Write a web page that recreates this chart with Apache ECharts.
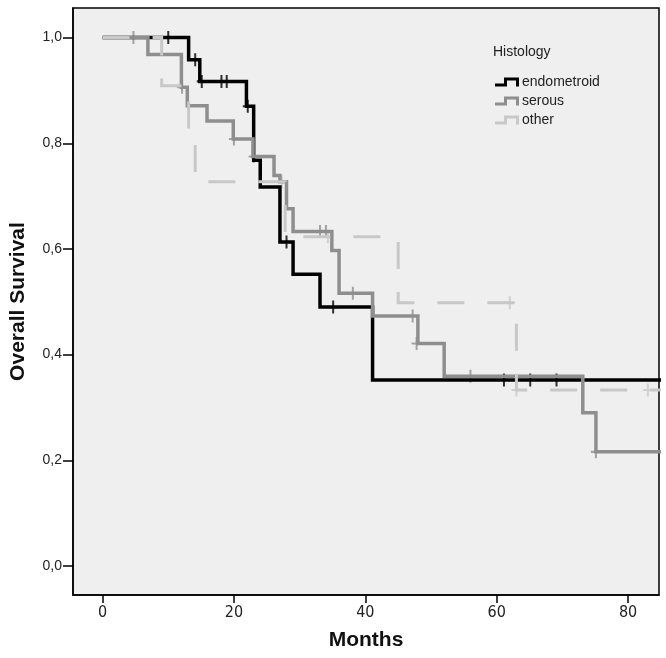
<!DOCTYPE html>
<html>
<head>
<meta charset="utf-8">
<script src="https://cdn.jsdelivr.net/npm/echarts@6/dist/echarts.min.js"></script>
<style>
html,body{margin:0;padding:0;background:#fff;}
#chart{width:666px;height:658px;}
</style>
</head>
<body>
<div id="chart"></div>
<script>
// ---- data ----
const monthTicks = [0, 20, 40, 60, 80];
const survivalTicks = [0, 0.2, 0.4, 0.6, 0.8, 1.0];
const groupNames = ['endometroid', 'serous', 'other'];

const endoTime = [0, 13.1, 14.8, 21.9, 23.0, 24.0, 27.0, 29.0, 33.1, 41.1, 85];
const endoSurv = [1.0, 0.958, 0.917, 0.870, 0.768, 0.717, 0.613, 0.552, 0.490, 0.352, 0.352];
const endoCensTime = [10.0, 14.1, 15.1, 18.1, 18.9, 22.1, 28.0, 35.1, 61.1, 65.1, 69.1];
const endoCensSurv = [1.0, 0.958, 0.917, 0.917, 0.917, 0.870, 0.613, 0.490, 0.352, 0.352, 0.352];

const serTime = [0, 6.9, 12.0, 12.9, 15.9, 19.9, 22.9, 26.1, 27.0, 28.0, 29.0, 34.9, 36.0, 41.1, 48.0, 52.0, 73.1, 75.1, 85];
const serSurv = [1.0, 0.968, 0.906, 0.871, 0.842, 0.808, 0.775, 0.739, 0.727, 0.676, 0.633, 0.597, 0.516, 0.473, 0.421, 0.359, 0.290, 0.216, 0.216];
const serCensTime = [4.7, 12.1, 20.0, 23.0, 33.1, 34.0, 38.1, 47.2, 47.8, 56.0, 75.1];
const serCensSurv = [1.0, 0.906, 0.808, 0.775, 0.633, 0.633, 0.516, 0.473, 0.421, 0.359, 0.216];

const othTime = [0, 9.0, 13.1, 14.1, 27.8, 45.0, 63.0, 85];
const othSurv = [1.0, 0.909, 0.818, 0.727, 0.623, 0.498, 0.333, 0.333];
const othCensTime = [27.3, 34.3, 62.0, 63.0, 83.0];
const othCensSurv = [0.727, 0.623, 0.498, 0.333, 0.333];

// ---- build ----
const zip = (a, b) => a.map((v, i) => [v, b[i]]);
const colors = ['#000000', '#8e8e8e', '#c8c8c8'];
const plusPath = 'path://M4,0h2v5h4v2h-4v5h-2v-5h-4v-2h4z';
const stepIcon = 'path://M0,6L9,6L9,0L24,0L24,9L21,9L21,3L12,3L12,9L0,9Z';

function lineSeries(name, data, color, width, type) {
  return {
    name: name, type: 'line', step: 'end', data: data,
    showSymbol: false, symbol: 'none',
    lineStyle: { color: color, width: width, type: type, cap: 'butt', join: 'miter' },
    itemStyle: { color: color },
    emphasis: { disabled: true }, animation: false
  };
}
function censSeries(name, data, color) {
  return {
    name: name, type: 'scatter', data: data,
    symbol: plusPath, symbolSize: [10, 13],
    itemStyle: { color: color },
    emphasis: { disabled: true }, animation: false
  };
}

const chart = echarts.init(document.getElementById('chart'), null, { renderer: 'canvas' });
chart.setOption({
  backgroundColor: '#ffffff',
  animation: false,
  title: {
    text: 'Histology', left: 493, top: 45, padding: 0,
    textStyle: { fontFamily: 'Liberation Sans, Arial, sans-serif', fontSize: 14, fontWeight: 'normal', color: '#222' }
  },
  legend: {
    data: groupNames,
    orient: 'vertical', left: 495, top: 75, padding: 0,
    itemWidth: 24, itemHeight: 10, itemGap: 5,
    icon: stepIcon,
    itemStyle: { borderWidth: 0 },
    textStyle: { fontFamily: 'Liberation Sans, Arial, sans-serif', fontSize: 14, color: '#222', padding: [0,0,0,-2] },
    selectedMode: false
  },
  grid: {
    left: 73, top: 8, right: 7, bottom: 63,
    show: true, backgroundColor: '#efefef', borderColor: '#000', borderWidth: 1.5,
    containLabel: false, outerBoundsMode: 'none'
  },
  xAxis: {
    type: 'value', min: -4.5, max: 84.7,
    name: 'Months', nameLocation: 'middle', nameGap: 35,
    nameTextStyle: { fontFamily: 'Liberation Sans, Arial, sans-serif', fontSize: 21, fontWeight: 'bold', color: '#111' },
    axisLine: { show: true, onZero: false, lineStyle: { color: '#000', width: 1.5 } },
    axisTick: { show: true, customValues: monthTicks, length: 8, lineStyle: { color: '#000', width: 1.5 } },
    axisLabel: {
      customValues: monthTicks, margin: 10,
      fontFamily: 'Liberation Sans Narrow, Arial Narrow, DejaVu Sans Condensed, sans-serif',
      fontSize: 16, color: '#222'
    },
    splitLine: { show: false }
  },
  yAxis: {
    type: 'value', min: -0.055, max: 1.056,
    name: 'Overall Survival', nameLocation: 'middle', nameGap: 44,
    nameTextStyle: { fontFamily: 'Liberation Sans, Arial, sans-serif', fontSize: 21, fontWeight: 'bold', color: '#111' },
    axisLine: { show: true, onZero: false, lineStyle: { color: '#000', width: 1.5 } },
    axisTick: { show: true, customValues: survivalTicks, length: 10, lineStyle: { color: '#000', width: 1.5 } },
    axisLabel: {
      customValues: survivalTicks, margin: 11,
      fontFamily: 'Liberation Sans, Arial, sans-serif', fontSize: 14, color: '#222',
      formatter: v => v.toFixed(1).replace('.', ',')
    },
    splitLine: { show: false }
  },
  series: [
    lineSeries(groupNames[0], zip(endoTime, endoSurv), colors[0], 3.5, 'solid'),
    censSeries('endometroid censored', zip(endoCensTime, endoCensSurv), colors[0]),
    lineSeries(groupNames[1], zip(serTime, serSurv), colors[1], 3.5, 'solid'),
    censSeries('serous censored', zip(serCensTime, serCensSurv), colors[1]),
    lineSeries(groupNames[2], zip(othTime, othSurv), colors[2], 3, [27, 23]),
    censSeries('other censored', zip(othCensTime, othCensSurv), colors[2])
  ]
});
</script>
</body>
</html>
